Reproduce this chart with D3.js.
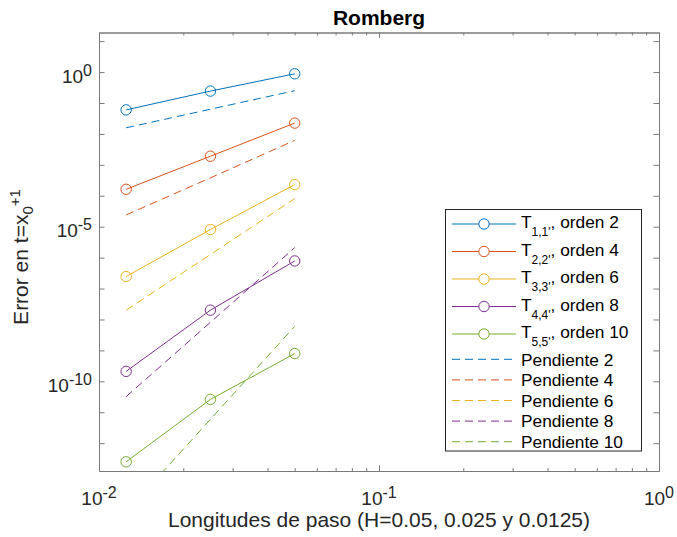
<!DOCTYPE html>
<html>
<head>
<meta charset="utf-8">
<script src="https://cdn.jsdelivr.net/npm/d3@7/dist/d3.min.js"></script>
<style>
body{margin:0;background:#fff;}
text{font-family:"Liberation Sans",Arial,sans-serif;}
</style>
</head>
<body>
<div id="chart-area"></div>
<script>
// longitudes de paso
const pasos=[0.0125,0.025,0.05];

// errores de Romberg T_{k,k}
const errT11=[0.060,0.243,0.88];
const errT22=[1.62e-4,1.9e-3,2.24e-2];
const errT33=[2.45e-7,8.1e-6,2.3e-4];
const errT44=[2.1e-10,2.0e-8,7.8e-7];
const errT55=[2.5e-13,2.6e-11,7.9e-10];

// rectas de referencia (pendientes)
const pend2=[0.0158,0.063,0.25];
const pend4=[2.4e-5,3.8e-4,6.2e-3];
const pend6=[2.0e-8,1.26e-6,8.1e-5];
const pend8=[3.2e-11,8.1e-9,2.1e-6];
const pend10=[5.8e-15,5.9e-12,6.0e-9];

const subindices=["1,1'","2,2'","3,3'","4,4'","5,5'"];
const ordenes=[2,4,6,8,10];
const colores=['#0072BD','#D95319','#EDB120','#7E2F8E','#77AC30'];

const xMajor=[1e-2,1e-1,1e0];
const xMajorLabels=['-2','-1','0'];
const yLabelTicks=[1e-10,1e-5,1e0];
const yLabelExp=['-10','-5','0'];

const errores=[errT11,errT22,errT33,errT44,errT55];
const pendientes=[pend2,pend4,pend6,pend8,pend10];

const W=677,H=537;
const m={left:99,right:659,top:32.5,bottom:471};

const svg=d3.select('#chart-area').append('svg')
    .attr('width',W)
    .attr('height',H);

const x=d3.scaleLog().domain([1e-2,1]).range([m.left,m.right]);
const y=d3.scaleLog().domain([Math.pow(10,-12.9),Math.pow(10,1.28)]).range([m.bottom,m.top]);

// minor ticks x
let xMinor=[];
[1e-2,1e-1].forEach(d=>{for(let k=2;k<=9;k++) xMinor.push(d*k);});
// y ticks every decade
let yTicks=[];
for(let e=-12;e<=1;e++) yTicks.push(Math.pow(10,e));

const axisColor='#7a7a7a';

function styleAxis(g){
    g.selectAll('path.domain').attr('stroke',axisColor);
    g.selectAll('line').attr('stroke',axisColor);
    g.selectAll('text').remove();
}

// bottom / top x axes
[[d3.axisBottom,m.bottom],[d3.axisTop,m.top]].forEach(([ax,pos])=>{
    svg.append('g').attr('transform','translate(0,'+pos+')')
        .call(ax(x).tickValues(xMajor).tickSizeInner(-5.5).tickSizeOuter(0).tickFormat(''))
        .call(styleAxis);
    svg.append('g').attr('transform','translate(0,'+pos+')')
        .call(ax(x).tickValues(xMinor).tickSizeInner(-3).tickSizeOuter(0).tickFormat(''))
        .call(styleAxis);
});
// left / right y axes
[[d3.axisLeft,m.left],[d3.axisRight,m.right]].forEach(([ax,pos])=>{
    svg.append('g').attr('transform','translate('+pos+',0)')
        .call(ax(y).tickValues(yTicks).tickSizeInner(-5.5).tickSizeOuter(0).tickFormat(''))
        .call(styleAxis);
});

// tick labels x
xMajor.forEach((d,i)=>{
    const t=svg.append('text')
        .attr('x',x(d)).attr('y',505)
        .attr('text-anchor','middle')
        .attr('font-size','19px')
        .attr('fill','#262626');
    t.append('tspan').text('10');
    t.append('tspan').attr('dy',-7).attr('font-size','16px').text(xMajorLabels[i]);
});

// tick labels y
yLabelTicks.forEach((d,i)=>{
    const t=svg.append('text')
        .attr('x',92).attr('y',y(d)+10.5)
        .attr('text-anchor','end')
        .attr('font-size','19px')
        .attr('fill','#262626');
    t.append('tspan').text('10');
    t.append('tspan').attr('dy',-7).attr('font-size','16px').text(yLabelExp[i]);
});

// clip
svg.append('clipPath').attr('id','clip')
    .append('rect').attr('x',m.left).attr('y',m.top)
    .attr('width',m.right-m.left).attr('height',m.bottom-m.top);

const plot=svg.append('g').attr('clip-path','url(#clip)');

const line=d3.line().x((d,i)=>x(pasos[i])).y(d=>y(d));

// dashed slopes
pendientes.forEach((p,i)=>{
    plot.append('path')
        .attr('d',line(p))
        .attr('fill','none')
        .attr('stroke',colores[i])
        .attr('stroke-width',1)
        .attr('stroke-dasharray','8,5');
});

// error lines with circles
errores.forEach((e,i)=>{
    plot.append('path')
        .attr('d',line(e))
        .attr('fill','none')
        .attr('stroke',colores[i])
        .attr('stroke-width',1);
    plot.selectAll(null)
        .data(e)
        .enter()
        .append('circle')
        .attr('cx',(d,k)=>x(pasos[k]))
        .attr('cy',d=>y(d))
        .attr('r',5.2)
        .attr('fill','none')
        .attr('stroke',colores[i])
        .attr('stroke-width',1);
});

// title
svg.append('text')
    .attr('x',(m.left+m.right)/2).attr('y',25)
    .attr('text-anchor','middle')
    .attr('font-size','21px')
    .attr('font-weight','bold')
    .attr('fill','#000')
    .text('Romberg');

// x label
svg.append('text')
    .attr('x',(m.left+m.right)/2).attr('y',527)
    .attr('text-anchor','middle')
    .attr('font-size','21px')
    .attr('fill','#262626')
    .text('Longitudes de paso (H=0.05, 0.025 y 0.0125)');

// y label
const yl=svg.append('text')
    .attr('transform','translate(28,257) rotate(-90)')
    .attr('text-anchor','middle')
    .attr('font-size','21px')
    .attr('fill','#262626');
yl.append('tspan').text('Error en t=x');
yl.append('tspan').attr('dy',5).attr('font-size','15px').text('0');
yl.append('tspan').attr('dy',-13).attr('font-size','15px').text('+1');

// legend
const lg=svg.append('g');
lg.append('rect')
    .attr('x',445.5).attr('y',209.5)
    .attr('width',196).attr('height',241.5)
    .attr('fill','#fff')
    .attr('stroke','#262626')
    .attr('stroke-width',1);

subindices.forEach((s,i)=>{
    const ry=224+i*27.5;
    lg.append('line')
        .attr('x1',452).attr('x2',516).attr('y1',ry).attr('y2',ry)
        .attr('stroke',colores[i]).attr('stroke-width',1);
    lg.append('circle')
        .attr('cx',484).attr('cy',ry).attr('r',5.2)
        .attr('fill','#fff').attr('stroke',colores[i]).attr('stroke-width',1);
    const t=lg.append('text')
        .attr('x',521).attr('y',ry+4.3)
        .attr('font-size','17.3px')
        .attr('fill','#000');
    t.append('tspan').text('T');
    t.append('tspan').attr('dy',8).attr('font-size','12px').text(s);
    t.append('tspan').attr('dy',-8).text(', orden '+ordenes[i]);
});

ordenes.forEach((o,i)=>{
    const ry=359.3+i*20.6;
    lg.append('line')
        .attr('x1',452).attr('x2',516).attr('y1',ry).attr('y2',ry)
        .attr('stroke',colores[i]).attr('stroke-width',1)
        .attr('stroke-dasharray','8,5');
    lg.append('text')
        .attr('x',521).attr('y',ry+6.3)
        .attr('font-size','17.3px')
        .attr('fill','#000')
        .text('Pendiente '+o);
});
</script>
</body>
</html>
